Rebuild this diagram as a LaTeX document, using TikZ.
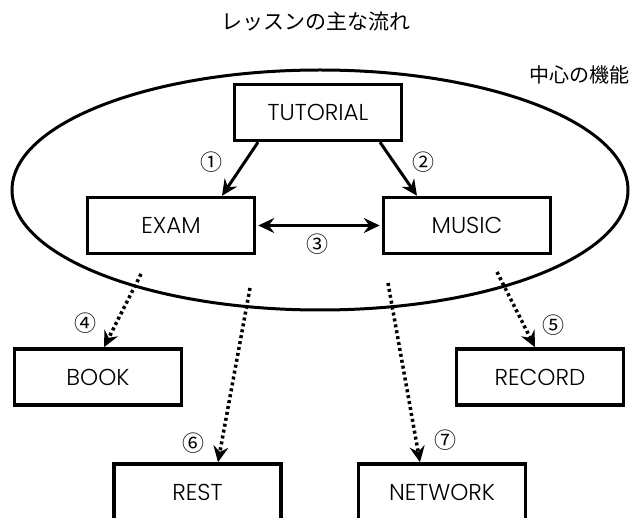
\documentclass[tikz,border=0pt]{standalone}
\usepackage{fontspec}
\setmainfont{Poppins}[UprightFont=* Light]
\newfontfamily\jp{Noto Sans CJK JP}
\usetikzlibrary{arrows.meta,calc}
\begin{document}
\begin{tikzpicture}[x=1pt,y=-1pt,
  boxnode/.style={draw,line width=3.5pt,minimum width=167pt,minimum height=56pt,inner sep=0pt,font=\fontsize{23}{26}\selectfont},
  numlabel/.style={font=\jp\fontsize{22}{24}\selectfont,inner sep=0pt},
  solidarrow/.style={line width=3pt,-{Stealth[length=16pt,width=15pt,inset=5.5pt]}},
  dotarrow/.style={line width=3.5pt,dash pattern=on 3pt off 3pt,-{Stealth[length=16pt,width=15pt,inset=5.5pt]}},
  dblarrow/.style={line width=3pt,{Stealth[length=16pt,width=15pt,inset=5.5pt]}-{Stealth[length=16pt,width=15pt,inset=5.5pt]}}
]
\useasboundingbox (0,0) rectangle (632,518);
\node[font=\jp\fontsize{21}{24}\selectfont,inner sep=0pt] (title) at (316,22) {レッスンの主な流れ};
\draw[line width=3pt] (320,190) ellipse [x radius=308, y radius=120];
\node[font=\jp\fontsize{20}{24}\selectfont,inner sep=0pt,anchor=east] (core) at (630,75) {中心の機能};

\node[boxnode] (tut) at (318,112.5) {TUTORIAL};
\node[boxnode] (exam) at (171,225.5) {EXAM};
\node[boxnode] (music) at (467,225.5) {MUSIC};
\node[boxnode] (book) at (98,377) {BOOK};
\node[boxnode] (record) at (540,377) {RECORD};
\node[boxnode] (rest) at (197.5,492) {REST};
\node[boxnode] (network) at (442,492) {NETWORK};

\draw[solidarrow] ($(tut.south)+(-60,0)$) -- ($(exam.north)+(51,0)$);
\draw[solidarrow] ($(tut.south)+(62,0)$) -- ($(music.north)+(-50,0)$);
\draw[dblarrow,shorten <=2pt,shorten >=2pt] (exam.east) -- (music.west);

\coordinate (s4) at (141,274);
\coordinate (s6) at (250,288);
\coordinate (s7) at (388,283);
\coordinate (s5) at (497,272);
\draw[dotarrow] (s4) -- ($(book.north)+(6,0)$);
\draw[dotarrow] (s6) -- ($(rest.north)+(20.5,0)$);
\draw[dotarrow] (s7) -- ($(network.north)+(-22,0)$);
\draw[dotarrow] (s5) -- ($(record.north)+(-5,0)$);

\node[numlabel] (n1) at (211,162) {①};
\node[numlabel] (n2) at (423,162) {②};
\node[numlabel] (n3) at (317,244) {③};
\node[numlabel] (n4) at (85,323) {④};
\node[numlabel] (n5) at (553,325) {⑤};
\node[numlabel] (n6) at (193,443) {⑥};
\node[numlabel] (n7) at (445,440) {⑦};
\end{tikzpicture}
\end{document}
